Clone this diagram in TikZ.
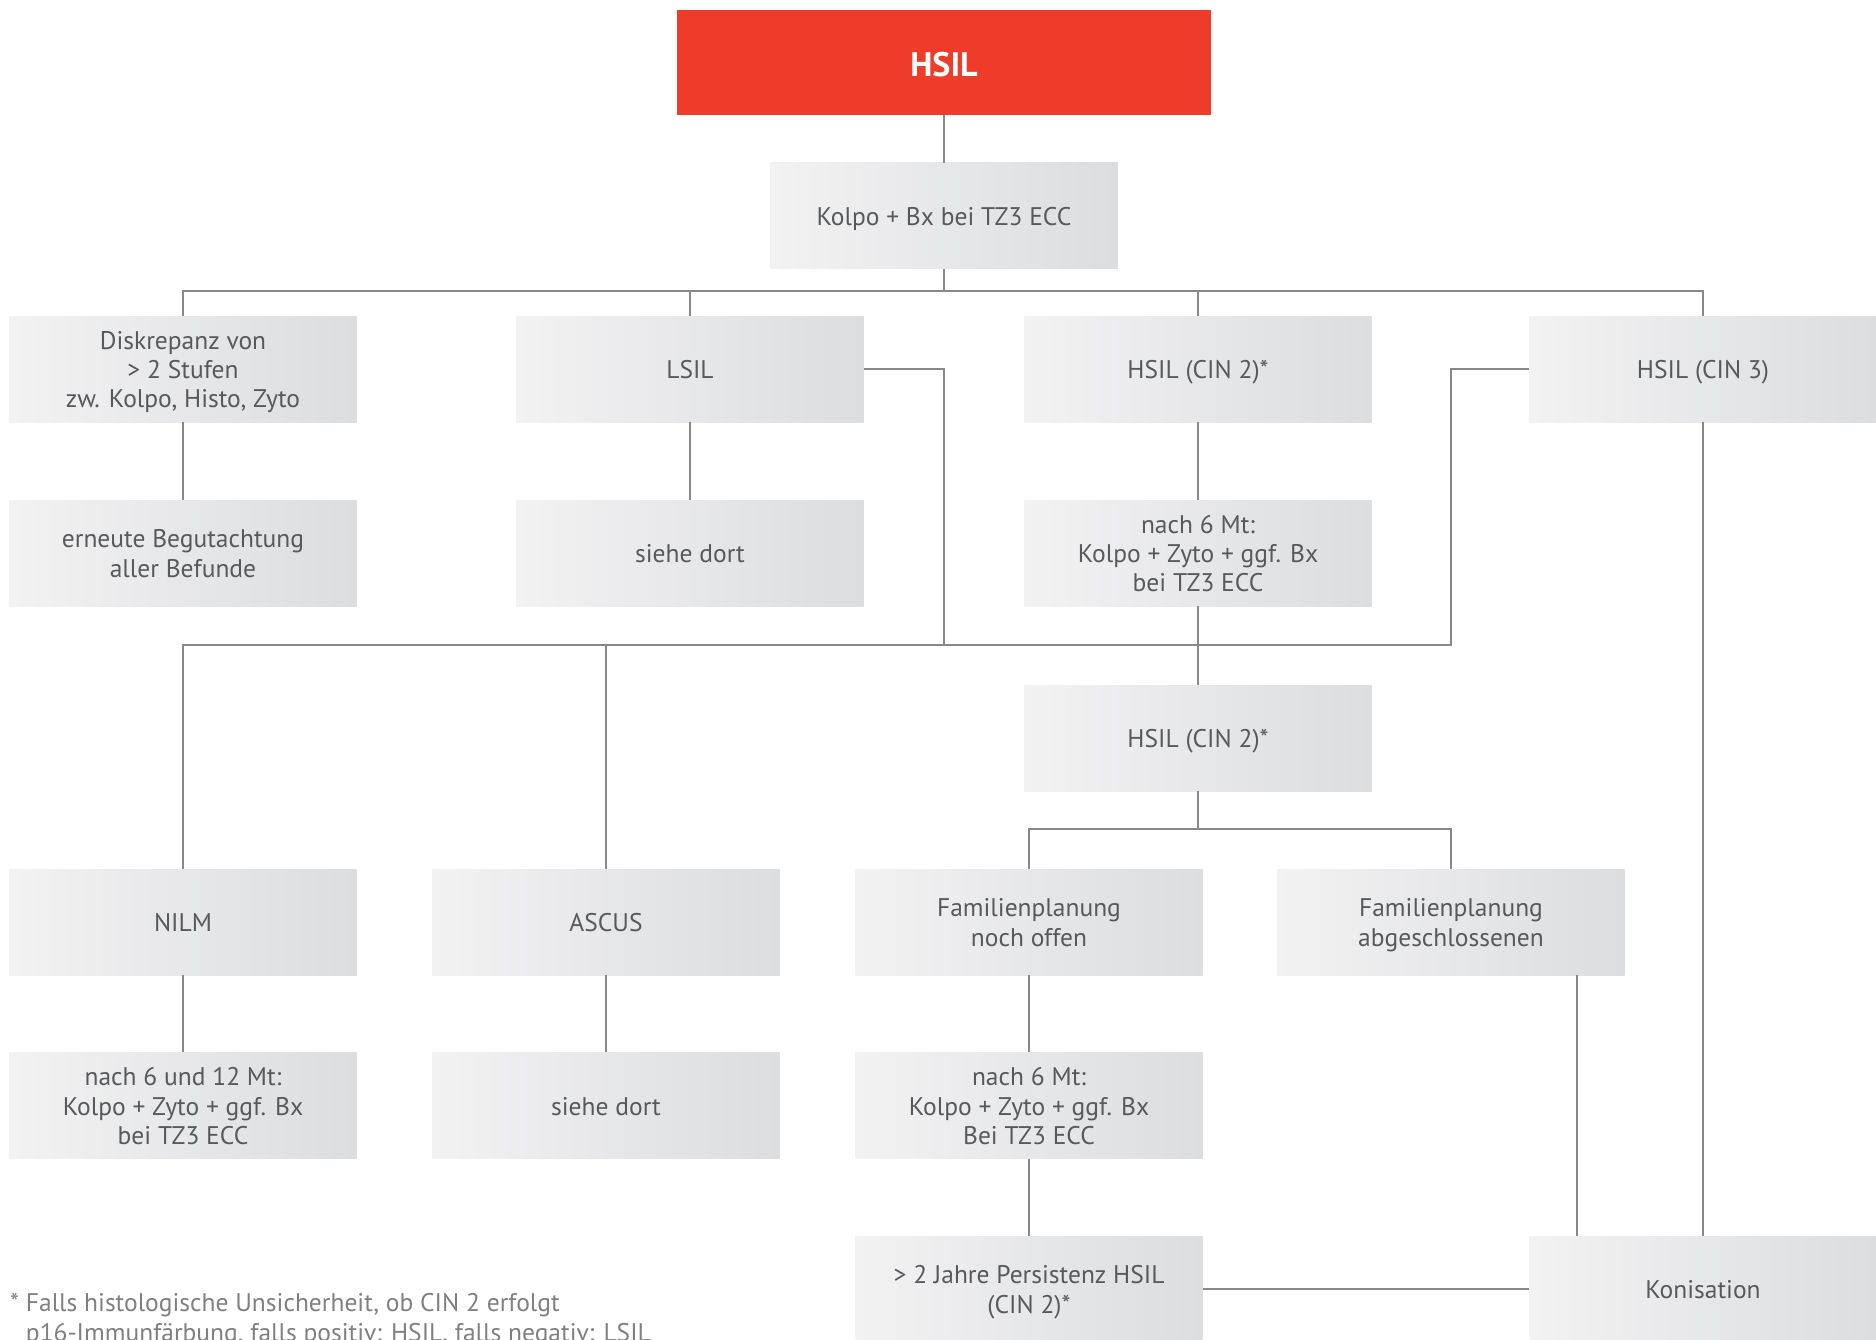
\documentclass[tikz,border=0pt]{standalone}
\usepackage{fontspec}
\setmainfont{PT Sans}
\definecolor{hsilred}{HTML}{EF3B29}
\definecolor{boxl}{HTML}{F2F2F3}
\definecolor{boxr}{HTML}{DCDDDF}
\definecolor{txt}{HTML}{58595B}
\definecolor{linec}{HTML}{888888}
\definecolor{foot}{HTML}{808080}
\newcommand\bxt[1]{\begin{tabular}{@{}c@{}}\rule{0pt}{28pt}#1\rule[-8pt]{0pt}{8pt}\end{tabular}}
\begin{document}
\begin{tikzpicture}[x=1pt,y=-1pt,
  box/.style={minimum width=347pt, minimum height=106pt, inner sep=0pt,
    left color=boxl, right color=boxr, draw=none, text=txt,
    font=\fontsize{25.5}{29.3}\selectfont},
  headbox/.style={minimum width=534pt, minimum height=105pt, inner sep=0pt,
    fill=hsilred, draw=none, text=white, font=\fontsize{34}{40}\selectfont\bfseries,
    execute at begin node={\rule{0pt}{36pt}},
    execute at end node={\rule[-8pt]{0pt}{8pt}}},
  ln/.style={draw=linec, line width=2.9pt}]
\useasboundingbox (0,0) rectangle (1876,1340);
\fill[white] (0,0) rectangle (1876,1340);

\node[headbox] (hsil) at (944,62.5) {HSIL};
\node[box] (kolpo) at (944,216) {\bxt{Kolpo + Bx bei TZ3 ECC}};

\node[box] (disk) at (183,369) {\bxt{Diskrepanz von\\> 2 Stufen\\zw. Kolpo, Histo, Zyto}};
\node[box] (lsil) at (690,369) {\bxt{LSIL}};
\node[box] (cin2a) at (1198,369) {\bxt{HSIL (CIN 2)*}};
\node[box] (cin3) at (1703,369) {\bxt{HSIL (CIN 3)}};

\node[box] (erneute) at (183,553) {\bxt{erneute Begutachtung\\aller Befunde}};
\node[box] (siehe1) at (690,553) {\bxt{siehe dort}};
\node[box] (nach6a) at (1198,553) {\bxt{nach 6 Mt:\\Kolpo + Zyto + ggf. Bx\\bei TZ3 ECC}};

\node[box] (cin2b) at (1198,738) {\bxt{HSIL (CIN 2)*}};

\node[box] (nilm) at (183,922) {\bxt{NILM}};
\node[box] (ascus) at (606,922) {\bxt{ASCUS}};
\node[box] (famnoch) at (1029,922) {\bxt{Familienplanung\\noch offen}};
\node[box] (famab) at (1451,922) {\bxt{Familienplanung\\abgeschlossenen}};

\node[box] (nach612) at (183,1105.5) {\bxt{nach 6 und 12 Mt:\\Kolpo + Zyto + ggf. Bx\\bei TZ3 ECC}};
\node[box] (siehe2) at (606,1105.5) {\bxt{siehe dort}};
\node[box] (nach6b) at (1029,1105.5) {\bxt{nach 6 Mt:\\Kolpo + Zyto + ggf. Bx\\Bei TZ3 ECC}};

\node[box] (jahre) at (1029,1289) {\bxt{> 2 Jahre Persistenz HSIL\\(CIN 2)*}};
\node[box] (kon) at (1703,1289) {\bxt{Konisation}};

\node[anchor=west, inner sep=0pt, align=left, text=foot,
  font=\fontsize{25.5}{29.3}\selectfont] (fn) at (10,1320)
  {* Falls histologische Unsicherheit, ob CIN 2 erfolgt\\
   \phantom{*\ }p16-Immunfärbung, falls positiv: HSIL, falls negativ: LSIL};

\coordinate (bus1) at (944,291);
\coordinate (bus2) at (944,645);
\coordinate (bus2r) at (1451,645);
\coordinate (bus3) at (1198,829);
\coordinate (k1) at (1577,0);

\draw[ln] (hsil.south) -- (kolpo.north);
\draw[ln] (kolpo.south) -- (bus1);
\draw[ln] (disk.north) |- (bus1);
\draw[ln] (lsil.north) |- (bus1);
\draw[ln] (cin2a.north) |- (bus1);
\draw[ln] (cin3.north) |- (bus1);

\draw[ln] (disk.south) -- (erneute.north);
\draw[ln] (lsil.south) -- (siehe1.north);
\draw[ln] (cin2a.south) -- (nach6a.north);

\draw[ln] (lsil.east) -| (bus2);
\draw[ln] (cin3.west) -| (bus2r) -- (bus2);
\draw[ln] (nilm.north) |- (bus2);
\draw[ln] (ascus.north) |- (bus2);
\draw[ln] (nach6a.south) -- (cin2b.north);

\draw[ln] (cin2b.south) -- (bus3);
\draw[ln] (famnoch.north) |- (bus3);
\draw[ln] (famab.north) |- (bus3);

\draw[ln] (nilm.south) -- (nach612.north);
\draw[ln] (ascus.south) -- (siehe2.north);
\draw[ln] (famnoch.south) -- (nach6b.north);
\draw[ln] (nach6b.south) -- (jahre.north);
\draw[ln] (jahre.east) -- (kon.west);
\draw[ln] (famab.south -| k1) -- (kon.north -| k1);
\draw[ln] (cin3.south) -- (kon.north);
\end{tikzpicture}
\end{document}
